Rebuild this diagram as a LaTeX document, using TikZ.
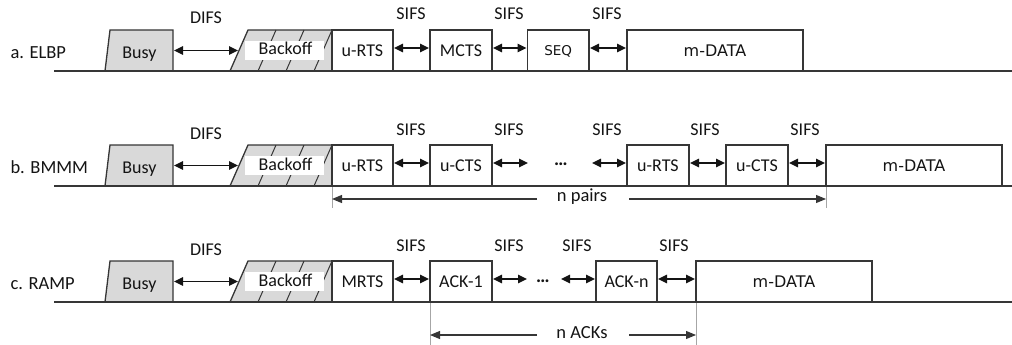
\documentclass[tikz,border=0pt]{standalone}
\usepackage{fontspec}
\setmainfont{Carlito}
\newfontfamily\dvfont{DejaVu Sans}
\usetikzlibrary{arrows.meta}

\definecolor{ink}{HTML}{141414}
\definecolor{edge}{HTML}{363636}
\definecolor{boxgray}{HTML}{D9D9D9}
\definecolor{tick}{HTML}{A6A6A6}

\tikzset{
  txt/.style={font=\fontsize{18}{20}\selectfont, text=ink, inner sep=0pt, outer sep=0pt},
  bigtxt/.style={font=\fontsize{18.5}{21}\selectfont, text=ink, inner sep=0pt, outer sep=0pt},
  frame/.style={txt, draw=edge, line width=1.3pt, fill=white, text depth=0pt,
                minimum height=41pt, anchor=south west},
  dvtxt/.style={font=\dvfont\fontsize{16}{18}\selectfont},
  dvsmall/.style={font=\dvfont\fontsize{13.5}{15}\selectfont},
  dotstxt/.style={font=\bfseries\fontsize{19}{21}\selectfont, text=ink, inner sep=0pt},
  baseln/.style={draw=edge, line width=1.8pt},
  dbl/.style={{Triangle[length=9pt,width=8.5pt]}-{Triangle[length=9pt,width=8.5pt]},
              line width=1.3pt, draw=ink, shorten <=1pt, shorten >=1pt},
  spanarrow/.style={-{Triangle[length=10pt,width=8pt]}, line width=1.1pt, draw=edge},
  tickln/.style={draw=tick, line width=1pt},
  hatch/.style={draw=edge, line width=1pt},
  outline/.style={draw=edge, line width=1.3pt},
}

% Common start of each row: label, Busy block, DIFS gap and Backoff block
\newcommand\rowhead[3]{%
  \node[bigtxt, anchor=base west] (lbl#1) at (10.5,#2-12.7) {#3};
  % Busy
  \filldraw[outline, fill=boxgray] (105,#2) -- (110,#2-41) -- (173,#2-41) -- (173,#2);
  \node[txt, anchor=base] (busy#1) at (139.5,#2-12.7) {Busy};
  % Backoff (hatched)
  \fill[boxgray] (230,#2) -- (248,#2-41) -- (332,#2-41) -- (332,#2) -- cycle;
  \begin{scope}
    \clip (230,#2) -- (248,#2-41) -- (332,#2-41) -- (332,#2) -- cycle;
    \foreach \h in {258,286,314} \draw[hatch] (\h,#2) -- ++(18,-41);
  \end{scope}
  \fill[white] (245,#2-30) rectangle (324,#2-11);
  \node[txt, anchor=base] (boff#1) at (285.5,#2-16) {Backoff};
  \draw[outline] (230,#2) -- (248,#2-41) -- (332,#2-41) -- (332,#2);
  % DIFS
  \coordinate (busyR#1) at (173,#2-20.5);
  \coordinate (boffL#1) at (239,#2-20.5);
  \draw[dbl] (busyR#1) -- (boffL#1);
  \node[txt, anchor=base] (difs#1) at (206,#2-47) {DIFS};
}

% Baseline of a row
\newcommand\rowline[2]{%
  \coordinate (ls#1) at (54,#2);
  \coordinate (le#1) at (1012,#2);
  \draw[baseln] (ls#1) -- (le#1);
}

\begin{document}
\begin{tikzpicture}[x=1pt, y=-1pt]
\useasboundingbox (0,0) rectangle (1012,345);

% ---------------- a. ELBP ----------------
\rowhead{a}{71}{a. ELBP}
\node[frame, minimum width=61pt] (a1) at (332,71) {u-RTS};
\node[frame, minimum width=62pt] (a2) at (430,71) {MCTS};
\node[frame, minimum width=61.5pt, dvsmall] (a3) at (527.5,71) {SEQ};
\node[frame, minimum width=176pt, dvtxt] (a4) at (627,71) {m-DATA};
\draw[dbl] ([yshift=2.5pt]a1.east) -- ([yshift=2.5pt]a2.west);
\draw[dbl] ([yshift=2.5pt]a2.east) -- ([yshift=2.5pt]a3.west);
\draw[dbl] ([yshift=2.5pt]a3.east) -- ([yshift=2.5pt]a4.west);
\node[txt, anchor=base] (sa1) at (411,20) {SIFS};
\node[txt, anchor=base] (sa2) at (509,20) {SIFS};
\node[txt, anchor=base] (sa3) at (607,20) {SIFS};
\rowline{a}{71}

% ---------------- b. BMMM ----------------
\rowhead{b}{186}{b. BMMM}
\node[frame, minimum width=61pt] (b1) at (332,186) {u-RTS};
\node[frame, minimum width=62pt] (b2) at (430,186) {u-CTS};
\node[frame, minimum width=62pt] (b3) at (627,186) {u-RTS};
\node[frame, minimum width=62pt] (b4) at (726,186) {u-CTS};
\node[frame, minimum width=176pt, dvtxt] (b5) at (826,186) {m-DATA};
\coordinate (bd1) at (529,163);
\coordinate (bd2) at (591,163);
\node[dotstxt, anchor=base] (bdots) at (561,165.5) {…};
\draw[dbl] ([yshift=2.5pt]b1.east) -- ([yshift=2.5pt]b2.west);
\draw[dbl] ([yshift=2.5pt]b2.east) -- (bd1);
\draw[dbl] (bd2) -- ([yshift=2.5pt]b3.west);
\draw[dbl] ([yshift=2.5pt]b3.east) -- ([yshift=2.5pt]b4.west);
\draw[dbl] ([yshift=2.5pt]b4.east) -- ([yshift=2.5pt]b5.west);
\node[txt, anchor=base] (sb1) at (411,135) {SIFS};
\node[txt, anchor=base] (sb2) at (509,135) {SIFS};
\node[txt, anchor=base] (sb3) at (607,135) {SIFS};
\node[txt, anchor=base] (sb4) at (705,135) {SIFS};
\node[txt, anchor=base] (sb5) at (805,135) {SIFS};
% n pairs span
\coordinate (tb1) at (332,186);
\coordinate (tb1e) at (332,208);
\coordinate (tb2) at (826,186);
\coordinate (tb2e) at (826,208);
\draw[tickln] (tb1) -- (tb1e);
\draw[tickln] (tb2) -- (tb2e);
\coordinate (npL) at (332,199);
\coordinate (npR) at (826,199);
\coordinate (npa) at (537,199);
\coordinate (npb) at (629,199);
\node[bigtxt, anchor=base] (npairs) at (582,201.7) {n pairs};
\draw[spanarrow] (npa) -- (npL);
\draw[spanarrow] (npb) -- (npR);
\rowline{b}{186}

% ---------------- c. RAMP ----------------
\rowhead{c}{302}{c. RAMP}
\node[frame, minimum width=61pt] (c1) at (332,302) {MRTS};
\node[frame, minimum width=62pt] (c2) at (430,302) {ACK-1};
\node[frame, minimum width=61pt] (c3) at (596,302) {ACK-n};
\node[frame, minimum width=176pt, dvtxt] (c4) at (696,302) {m-DATA};
\coordinate (cd1) at (528,279);
\coordinate (cd2) at (560,279);
\node[dotstxt, anchor=base] (cdots) at (543,282.5) {…};
\draw[dbl] ([yshift=2.5pt]c1.east) -- ([yshift=2.5pt]c2.west);
\draw[dbl] ([yshift=2.5pt]c2.east) -- (cd1);
\draw[dbl] (cd2) -- ([yshift=2.5pt]c3.west);
\draw[dbl] ([yshift=2.5pt]c3.east) -- ([yshift=2.5pt]c4.west);
\node[txt, anchor=base] (sc1) at (411,251) {SIFS};
\node[txt, anchor=base] (sc2) at (509,251) {SIFS};
\node[txt, anchor=base] (sc3) at (577,251) {SIFS};
\node[txt, anchor=base] (sc4) at (674,251) {SIFS};
% n ACKs span
\coordinate (tc1) at (430,302);
\coordinate (tc1e) at (430,345);
\coordinate (tc2) at (696,302);
\coordinate (tc2e) at (696,345);
\draw[tickln] (tc1) -- (tc1e);
\draw[tickln] (tc2) -- (tc2e);
\coordinate (naL) at (430,335);
\coordinate (naR) at (696,335);
\coordinate (naa) at (537,335);
\coordinate (nab) at (629,335);
\node[bigtxt, anchor=base] (nacks) at (582,338.3) {n ACKs};
\draw[spanarrow] (naa) -- (naL);
\draw[spanarrow] (nab) -- (naR);
\rowline{c}{302}

\end{tikzpicture}
\end{document}
